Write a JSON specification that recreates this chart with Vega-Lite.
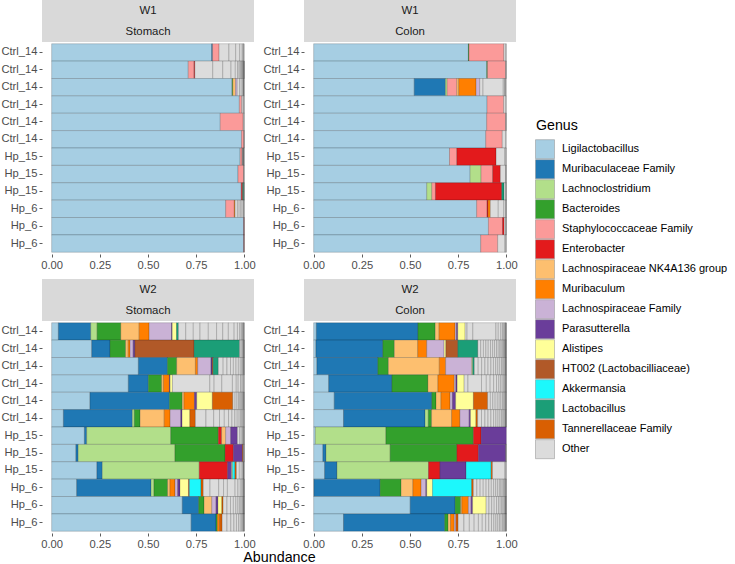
{
  "$schema": "https://vega.github.io/schema/vega-lite/v6.json",
  "background": "white",
  "padding": 0,
  "config": {
    "font": "Liberation Sans",
    "view": {"stroke": null},
    "axis": {"domain": false, "grid": false, "tickColor": "#333333", "tickSize": 3, "tickWidth": 0.8, "labelColor": "#4D4D4D", "labelFontSize": 11.2, "labelPadding": 2},
    "legend": {"title": "Genus", "orient": "none", "legendX": 494, "legendY": 119, "symbolType": "M-1.097,-1.097H1.097V1.097H-1.097Z", "symbolSize": 300, "symbolStrokeColor": "#8C8C8C", "symbolStrokeWidth": 0.5, "symbolOpacity": 1, "labelFontSize": 11, "labelColor": "#000000", "labelLimit": 300, "titleFontSize": 14.2, "titleFontWeight": "normal", "titleColor": "#000000", "rowPadding": -2.33, "labelOffset": 8, "titlePadding": 7},
    "title": {"fontWeight": "normal", "fontSize": 14.3, "color": "#000000"}
  },
  "title": {"text": "Abundance", "orient": "bottom", "anchor": "middle", "offset": 2, "dx": -85},
  "datasets": {
    "abundance": [
      {"week": "W1", "tissue": "Stomach", "sample": "Ctrl_14 1", "genus": ["Ligilactobacillus", "Muribaculaceae Family", "Staphylococcaceae Family", "Other", "Other", "Other", "Other", "Other", "Other", "Other"], "abundance": [0.830, 0.005, 0.034, 0.051, 0.035, 0.021, 0.013, 0.005, 0.003, 0.002]},
      {"week": "W1", "tissue": "Stomach", "sample": "Ctrl_14 2", "genus": ["Ligilactobacillus", "Staphylococcaceae Family", "Enterobacter", "Other", "Other", "Other", "Other", "Other", "Other", "Other", "Other", "Other", "Other", "Other", "Other", "Other", "Other", "Other"], "abundance": [0.709, 0.030, 0.004, 0.093, 0.052, 0.043, 0.022, 0.012, 0.008, 0.006, 0.005, 0.004, 0.003, 0.003, 0.002, 0.002, 0.001, 0.001]},
      {"week": "W1", "tissue": "Stomach", "sample": "Ctrl_14 3", "genus": ["Ligilactobacillus", "Bacteroides", "Lachnospiraceae NK4A136 group", "Lachnospiraceae Family", "Other", "Other", "Other", "Other", "Other", "Other", "Other"], "abundance": [0.936, 0.004, 0.014, 0.009, 0.012, 0.009, 0.007, 0.004, 0.002, 0.001, 0.001]},
      {"week": "W1", "tissue": "Stomach", "sample": "Ctrl_14 4", "genus": ["Ligilactobacillus", "Staphylococcaceae Family", "Other", "Other", "Other"], "abundance": [0.974, 0.012, 0.008, 0.004, 0.002]},
      {"week": "W1", "tissue": "Stomach", "sample": "Ctrl_14 5", "genus": ["Ligilactobacillus", "Staphylococcaceae Family", "Other", "Other"], "abundance": [0.875, 0.119, 0.004, 0.002]},
      {"week": "W1", "tissue": "Stomach", "sample": "Ctrl_14 6", "genus": ["Ligilactobacillus", "Staphylococcaceae Family", "Other", "Other"], "abundance": [0.985, 0.012, 0.002, 0.001]},
      {"week": "W1", "tissue": "Stomach", "sample": "Hp_15 1", "genus": ["Ligilactobacillus", "Staphylococcaceae Family", "Other", "Other", "Other", "Other", "Other", "Other"], "abundance": [0.978, 0.010, 0.003, 0.002, 0.002, 0.002, 0.001, 0.001]},
      {"week": "W1", "tissue": "Stomach", "sample": "Hp_15 2", "genus": ["Ligilactobacillus", "Staphylococcaceae Family", "Other", "Other"], "abundance": [0.967, 0.029, 0.002, 0.002]},
      {"week": "W1", "tissue": "Stomach", "sample": "Hp_15 3", "genus": ["Ligilactobacillus", "Enterobacter", "Lactobacillus", "Other", "Other"], "abundance": [0.984, 0.007, 0.006, 0.002, 0.001]},
      {"week": "W1", "tissue": "Stomach", "sample": "Hp_6 1", "genus": ["Ligilactobacillus", "Staphylococcaceae Family", "Muribaculum", "Other", "Other", "Other", "Other", "Other", "Other", "Other"], "abundance": [0.903, 0.045, 0.004, 0.012, 0.009, 0.009, 0.007, 0.007, 0.002, 0.002]},
      {"week": "W1", "tissue": "Stomach", "sample": "Hp_6 2", "genus": ["Ligilactobacillus", "Enterobacter", "Other"], "abundance": [0.997, 0.002, 0.001]},
      {"week": "W1", "tissue": "Stomach", "sample": "Hp_6 3", "genus": ["Ligilactobacillus", "Enterobacter", "Other"], "abundance": [0.997, 0.002, 0.001]},

      {"week": "W1", "tissue": "Colon", "sample": "Ctrl_14 1", "genus": ["Ligilactobacillus", "Bacteroides", "Staphylococcaceae Family", "Other", "Other"], "abundance": [0.803, 0.003, 0.181, 0.010, 0.003]},
      {"week": "W1", "tissue": "Colon", "sample": "Ctrl_14 2", "genus": ["Ligilactobacillus", "Bacteroides", "Staphylococcaceae Family", "Other", "Other"], "abundance": [0.898, 0.004, 0.094, 0.003, 0.001]},
      {"week": "W1", "tissue": "Colon", "sample": "Ctrl_14 3", "genus": ["Ligilactobacillus", "Muribaculaceae Family", "Lachnoclostridium", "Staphylococcaceae Family", "Lachnospiraceae NK4A136 group", "Muribaculum", "Lachnospiraceae Family", "Other", "Other", "Other", "Other", "Other", "Other"], "abundance": [0.522, 0.162, 0.009, 0.050, 0.010, 0.090, 0.019, 0.017, 0.105, 0.006, 0.004, 0.003, 0.002]},
      {"week": "W1", "tissue": "Colon", "sample": "Ctrl_14 4", "genus": ["Ligilactobacillus", "Staphylococcaceae Family", "Other", "Other"], "abundance": [0.900, 0.086, 0.011, 0.003]},
      {"week": "W1", "tissue": "Colon", "sample": "Ctrl_14 5", "genus": ["Ligilactobacillus", "Staphylococcaceae Family", "Other", "Other"], "abundance": [0.898, 0.098, 0.003, 0.001]},
      {"week": "W1", "tissue": "Colon", "sample": "Ctrl_14 6", "genus": ["Ligilactobacillus", "Staphylococcaceae Family", "Other", "Other"], "abundance": [0.893, 0.086, 0.017, 0.004]},
      {"week": "W1", "tissue": "Colon", "sample": "Hp_15 1", "genus": ["Ligilactobacillus", "Staphylococcaceae Family", "Enterobacter", "Other", "Other", "Other"], "abundance": [0.705, 0.038, 0.204, 0.045, 0.006, 0.002]},
      {"week": "W1", "tissue": "Colon", "sample": "Hp_15 2", "genus": ["Ligilactobacillus", "Lachnoclostridium", "Staphylococcaceae Family", "Enterobacter", "Other", "Other", "Other"], "abundance": [0.812, 0.057, 0.060, 0.040, 0.027, 0.003, 0.001]},
      {"week": "W1", "tissue": "Colon", "sample": "Hp_15 3", "genus": ["Ligilactobacillus", "Lachnoclostridium", "Staphylococcaceae Family", "Enterobacter", "Lactobacillus", "Other", "Other", "Other"], "abundance": [0.587, 0.026, 0.019, 0.344, 0.012, 0.009, 0.002, 0.001]},
      {"week": "W1", "tissue": "Colon", "sample": "Hp_6 1", "genus": ["Ligilactobacillus", "Staphylococcaceae Family", "Enterobacter", "Muribaculum", "Other", "Other", "Other", "Other", "Other"], "abundance": [0.846, 0.054, 0.005, 0.012, 0.041, 0.029, 0.010, 0.002, 0.001]},
      {"week": "W1", "tissue": "Colon", "sample": "Hp_6 2", "genus": ["Ligilactobacillus", "Staphylococcaceae Family", "Enterobacter", "Other", "Other", "Other"], "abundance": [0.907, 0.073, 0.009, 0.008, 0.002, 0.001]},
      {"week": "W1", "tissue": "Colon", "sample": "Hp_6 3", "genus": ["Ligilactobacillus", "Staphylococcaceae Family", "Other", "Other", "Other"], "abundance": [0.867, 0.088, 0.038, 0.005, 0.002]},

      {"week": "W2", "tissue": "Stomach", "sample": "Ctrl_14 1", "genus": ["Ligilactobacillus", "Muribaculaceae Family", "Lachnoclostridium", "Bacteroides", "Lachnospiraceae NK4A136 group", "Muribaculum", "Lachnospiraceae Family", "Parasutterella", "Alistipes", "Lactobacillus", "Other", "Other", "Other", "Other", "Other", "Other", "Other", "Other", "Other", "Other", "Other", "Other", "Other", "Other", "Other", "Other"], "abundance": [0.035, 0.168, 0.033, 0.123, 0.095, 0.052, 0.116, 0.004, 0.022, 0.010, 0.038, 0.039, 0.035, 0.043, 0.043, 0.032, 0.029, 0.030, 0.017, 0.012, 0.008, 0.005, 0.004, 0.003, 0.002, 0.002]},
      {"week": "W2", "tissue": "Stomach", "sample": "Ctrl_14 2", "genus": ["Ligilactobacillus", "Muribaculaceae Family", "Bacteroides", "Lachnospiraceae NK4A136 group", "Muribaculum", "Lachnospiraceae Family", "Parasutterella", "HT002 (Lactobacilliaceae)", "Lactobacillus", "Other", "Other", "Other", "Other", "Other", "Other", "Other"], "abundance": [0.208, 0.095, 0.081, 0.013, 0.010, 0.016, 0.009, 0.307, 0.236, 0.008, 0.006, 0.004, 0.003, 0.002, 0.001, 0.001]},
      {"week": "W2", "tissue": "Stomach", "sample": "Ctrl_14 3", "genus": ["Ligilactobacillus", "Muribaculaceae Family", "Bacteroides", "Lachnospiraceae NK4A136 group", "Muribaculum", "Lachnospiraceae Family", "Parasutterella", "HT002 (Lactobacilliaceae)", "Lactobacillus", "Other", "Other", "Other", "Other", "Other", "Other", "Other", "Other", "Other", "Other", "Other", "Other", "Other"], "abundance": [0.450, 0.151, 0.048, 0.097, 0.012, 0.069, 0.006, 0.005, 0.027, 0.025, 0.020, 0.018, 0.015, 0.014, 0.012, 0.010, 0.008, 0.005, 0.003, 0.002, 0.002, 0.001]},
      {"week": "W2", "tissue": "Stomach", "sample": "Ctrl_14 4", "genus": ["Ligilactobacillus", "Muribaculaceae Family", "Bacteroides", "Lachnospiraceae NK4A136 group", "Muribaculum", "Parasutterella", "Alistipes", "Other", "Other", "Other", "Other", "Other", "Other", "Other", "Other", "Other", "Other", "Other"], "abundance": [0.398, 0.104, 0.069, 0.009, 0.031, 0.004, 0.012, 0.194, 0.022, 0.040, 0.055, 0.020, 0.010, 0.012, 0.008, 0.006, 0.004, 0.002]},
      {"week": "W2", "tissue": "Stomach", "sample": "Ctrl_14 5", "genus": ["Ligilactobacillus", "Muribaculaceae Family", "Bacteroides", "Lachnospiraceae NK4A136 group", "Muribaculum", "Parasutterella", "Alistipes", "Tannerellaceae Family", "Other", "Other", "Other", "Other", "Other", "Other", "Other", "Other", "Other", "Other", "Other"], "abundance": [0.199, 0.412, 0.067, 0.009, 0.054, 0.012, 0.081, 0.106, 0.012, 0.010, 0.008, 0.007, 0.006, 0.005, 0.004, 0.003, 0.002, 0.002, 0.001]},
      {"week": "W2", "tissue": "Stomach", "sample": "Ctrl_14 6", "genus": ["Ligilactobacillus", "Muribaculaceae Family", "Lachnoclostridium", "Bacteroides", "Lachnospiraceae NK4A136 group", "Muribaculum", "Lachnospiraceae Family", "Parasutterella", "Alistipes", "Tannerellaceae Family", "Other", "Other", "Other", "Other", "Other", "Other", "Other", "Other", "Other", "Other", "Other", "Other", "Other", "Other", "Other"], "abundance": [0.061, 0.358, 0.010, 0.030, 0.125, 0.031, 0.055, 0.007, 0.040, 0.029, 0.055, 0.040, 0.030, 0.025, 0.022, 0.018, 0.015, 0.012, 0.010, 0.008, 0.006, 0.005, 0.004, 0.003, 0.002]},
      {"week": "W2", "tissue": "Stomach", "sample": "Hp_15 1", "genus": ["Ligilactobacillus", "Muribaculaceae Family", "Lachnoclostridium", "Bacteroides", "Enterobacter", "Lachnospiraceae NK4A136 group", "Lachnospiraceae Family", "Parasutterella", "Other", "Other", "Other", "Other", "Other", "Other", "Other"], "abundance": [0.170, 0.012, 0.436, 0.247, 0.017, 0.021, 0.026, 0.035, 0.012, 0.008, 0.006, 0.004, 0.003, 0.002, 0.001]},
      {"week": "W2", "tissue": "Stomach", "sample": "Hp_15 2", "genus": ["Ligilactobacillus", "Muribaculaceae Family", "Lachnoclostridium", "Bacteroides", "Enterobacter", "Parasutterella", "Tannerellaceae Family", "Other", "Other", "Other"], "abundance": [0.126, 0.012, 0.502, 0.260, 0.043, 0.047, 0.004, 0.003, 0.002, 0.001]},
      {"week": "W2", "tissue": "Stomach", "sample": "Hp_15 3", "genus": ["Ligilactobacillus", "Muribaculaceae Family", "Lachnoclostridium", "Enterobacter", "Parasutterella", "Alistipes", "Akkermansia", "Tannerellaceae Family", "Other", "Other", "Other", "Other", "Other", "Other", "Other"], "abundance": [0.235, 0.028, 0.503, 0.147, 0.021, 0.005, 0.012, 0.008, 0.015, 0.010, 0.007, 0.004, 0.002, 0.001, 0.001]},
      {"week": "W2", "tissue": "Stomach", "sample": "Hp_6 1", "genus": ["Ligilactobacillus", "Muribaculaceae Family", "Lachnoclostridium", "Bacteroides", "Lachnospiraceae NK4A136 group", "Muribaculum", "Lachnospiraceae Family", "Parasutterella", "Alistipes", "HT002 (Lactobacilliaceae)", "Akkermansia", "Tannerellaceae Family", "Other", "Other", "Other", "Other", "Other", "Other", "Other", "Other", "Other", "Other", "Other", "Other", "Other"], "abundance": [0.130, 0.386, 0.015, 0.071, 0.012, 0.026, 0.014, 0.012, 0.044, 0.005, 0.060, 0.012, 0.035, 0.045, 0.025, 0.020, 0.040, 0.015, 0.012, 0.008, 0.005, 0.004, 0.002, 0.001, 0.001]},
      {"week": "W2", "tissue": "Stomach", "sample": "Hp_6 2", "genus": ["Ligilactobacillus", "Muribaculaceae Family", "Bacteroides", "Lachnospiraceae NK4A136 group", "Lachnospiraceae Family", "Parasutterella", "Alistipes", "Tannerellaceae Family", "Other", "Other", "Other", "Other", "Other", "Other", "Other", "Other", "Other", "Other", "Other", "Other", "Other"], "abundance": [0.678, 0.085, 0.028, 0.040, 0.022, 0.010, 0.020, 0.007, 0.020, 0.018, 0.015, 0.013, 0.011, 0.009, 0.007, 0.006, 0.004, 0.003, 0.002, 0.001, 0.001]},
      {"week": "W2", "tissue": "Stomach", "sample": "Hp_6 3", "genus": ["Ligilactobacillus", "Muribaculaceae Family", "Bacteroides", "Muribaculum", "Tannerellaceae Family", "Other", "Other", "Other", "Other", "Other", "Other", "Other", "Other", "Other", "Other", "Other", "Other"], "abundance": [0.724, 0.129, 0.007, 0.012, 0.013, 0.025, 0.020, 0.016, 0.013, 0.011, 0.009, 0.007, 0.005, 0.004, 0.002, 0.002, 0.001]},

      {"week": "W2", "tissue": "Colon", "sample": "Ctrl_14 1", "genus": ["Ligilactobacillus", "Muribaculaceae Family", "Bacteroides", "Lachnospiraceae NK4A136 group", "Muribaculum", "Lachnospiraceae Family", "Parasutterella", "Alistipes", "Other", "Other", "Other", "Other", "Other", "Other", "Other", "Other", "Other", "Other", "Other", "Other"], "abundance": [0.014, 0.527, 0.090, 0.020, 0.083, 0.007, 0.007, 0.038, 0.010, 0.030, 0.120, 0.012, 0.014, 0.008, 0.006, 0.005, 0.004, 0.002, 0.002, 0.001]},
      {"week": "W2", "tissue": "Colon", "sample": "Ctrl_14 2", "genus": ["Ligilactobacillus", "Muribaculaceae Family", "Bacteroides", "Lachnospiraceae NK4A136 group", "Muribaculum", "Lachnospiraceae Family", "Alistipes", "HT002 (Lactobacilliaceae)", "Lactobacillus", "Other", "Other", "Other", "Other", "Other", "Other", "Other", "Other", "Other", "Other", "Other", "Other", "Other", "Other", "Other", "Other", "Other", "Other", "Other", "Other"], "abundance": [0.012, 0.347, 0.060, 0.121, 0.047, 0.090, 0.009, 0.062, 0.104, 0.015, 0.014, 0.013, 0.012, 0.012, 0.011, 0.010, 0.010, 0.009, 0.008, 0.007, 0.006, 0.005, 0.004, 0.003, 0.003, 0.002, 0.002, 0.001, 0.001]},
      {"week": "W2", "tissue": "Colon", "sample": "Ctrl_14 3", "genus": ["Ligilactobacillus", "Muribaculaceae Family", "Bacteroides", "Lachnospiraceae NK4A136 group", "Muribaculum", "Lachnospiraceae Family", "Alistipes", "Lactobacillus", "Other", "Other", "Other", "Other", "Other", "Other", "Other", "Other", "Other", "Other", "Other", "Other", "Other", "Other", "Other", "Other", "Other"], "abundance": [0.017, 0.316, 0.055, 0.264, 0.033, 0.135, 0.005, 0.009, 0.020, 0.018, 0.017, 0.016, 0.015, 0.013, 0.012, 0.011, 0.010, 0.009, 0.007, 0.006, 0.005, 0.003, 0.002, 0.001, 0.001]},
      {"week": "W2", "tissue": "Colon", "sample": "Ctrl_14 4", "genus": ["Ligilactobacillus", "Muribaculaceae Family", "Bacteroides", "Lachnospiraceae NK4A136 group", "Muribaculum", "Lachnospiraceae Family", "Parasutterella", "Alistipes", "Other", "Other", "Other", "Other", "Other", "Other", "Other", "Other", "Other", "Other", "Other", "Other", "Other", "Other", "Other"], "abundance": [0.078, 0.328, 0.187, 0.052, 0.085, 0.008, 0.007, 0.036, 0.020, 0.070, 0.025, 0.020, 0.018, 0.015, 0.012, 0.010, 0.008, 0.007, 0.005, 0.004, 0.003, 0.001, 0.001]},
      {"week": "W2", "tissue": "Colon", "sample": "Ctrl_14 5", "genus": ["Ligilactobacillus", "Muribaculaceae Family", "Bacteroides", "Lachnospiraceae NK4A136 group", "Muribaculum", "Lachnospiraceae Family", "Parasutterella", "Alistipes", "Tannerellaceae Family", "Other", "Other", "Other", "Other", "Other", "Other", "Other", "Other", "Other", "Other", "Other", "Other", "Other"], "abundance": [0.107, 0.506, 0.022, 0.026, 0.047, 0.012, 0.017, 0.092, 0.074, 0.014, 0.013, 0.012, 0.011, 0.010, 0.009, 0.008, 0.006, 0.005, 0.004, 0.003, 0.001, 0.001]},
      {"week": "W2", "tissue": "Colon", "sample": "Ctrl_14 6", "genus": ["Ligilactobacillus", "Muribaculaceae Family", "Lachnoclostridium", "Bacteroides", "Lachnospiraceae NK4A136 group", "Muribaculum", "Lachnospiraceae Family", "Parasutterella", "Alistipes", "Tannerellaceae Family", "Other", "Other", "Other", "Other", "Other", "Other", "Other", "Other", "Other", "Other", "Other", "Other", "Other", "Other", "Other", "Other"], "abundance": [0.155, 0.423, 0.017, 0.017, 0.104, 0.043, 0.048, 0.007, 0.028, 0.009, 0.020, 0.018, 0.016, 0.015, 0.014, 0.012, 0.011, 0.010, 0.008, 0.007, 0.006, 0.005, 0.003, 0.002, 0.001, 0.001]},
      {"week": "W2", "tissue": "Colon", "sample": "Hp_15 1", "genus": ["Ligilactobacillus", "Lachnoclostridium", "Bacteroides", "Enterobacter", "Parasutterella"], "abundance": [0.009, 0.366, 0.454, 0.040, 0.131]},
      {"week": "W2", "tissue": "Colon", "sample": "Hp_15 2", "genus": ["Ligilactobacillus", "Muribaculaceae Family", "Lachnoclostridium", "Bacteroides", "Enterobacter", "Parasutterella", "Other", "Other"], "abundance": [0.048, 0.016, 0.333, 0.346, 0.112, 0.142, 0.002, 0.001]},
      {"week": "W2", "tissue": "Colon", "sample": "Hp_15 3", "genus": ["Ligilactobacillus", "Muribaculaceae Family", "Lachnoclostridium", "Enterobacter", "Parasutterella", "Akkermansia", "Tannerellaceae Family", "Other", "Other", "Other"], "abundance": [0.057, 0.064, 0.475, 0.059, 0.136, 0.130, 0.007, 0.065, 0.005, 0.002]},
      {"week": "W2", "tissue": "Colon", "sample": "Hp_6 1", "genus": ["Ligilactobacillus", "Muribaculaceae Family", "Bacteroides", "Lachnospiraceae NK4A136 group", "Muribaculum", "Lachnospiraceae Family", "Parasutterella", "Alistipes", "Akkermansia", "Tannerellaceae Family", "Other", "Other", "Other", "Other", "Other", "Other", "Other", "Other", "Other", "Other", "Other", "Other", "Other", "Other", "Other", "Other", "Other", "Other"], "abundance": [0.002, 0.343, 0.109, 0.061, 0.043, 0.024, 0.005, 0.030, 0.203, 0.009, 0.018, 0.017, 0.016, 0.015, 0.014, 0.013, 0.012, 0.011, 0.010, 0.009, 0.008, 0.007, 0.006, 0.005, 0.004, 0.003, 0.002, 0.001]},
      {"week": "W2", "tissue": "Colon", "sample": "Hp_6 2", "genus": ["Ligilactobacillus", "Muribaculaceae Family", "Bacteroides", "Lachnospiraceae NK4A136 group", "Muribaculum", "Lachnospiraceae Family", "Parasutterella", "Alistipes", "Other", "Other", "Other", "Other", "Other", "Other", "Other", "Other", "Other", "Other", "Other", "Other", "Other", "Other"], "abundance": [0.501, 0.233, 0.029, 0.006, 0.034, 0.014, 0.008, 0.070, 0.015, 0.014, 0.013, 0.012, 0.010, 0.009, 0.008, 0.007, 0.006, 0.004, 0.003, 0.002, 0.001, 0.001]},
      {"week": "W2", "tissue": "Colon", "sample": "Hp_6 3", "genus": ["Ligilactobacillus", "Muribaculaceae Family", "Bacteroides", "Lachnospiraceae NK4A136 group", "Muribaculum", "Lachnospiraceae Family", "Tannerellaceae Family", "Other", "Other", "Other", "Other", "Other", "Other", "Other", "Other", "Other", "Other", "Other", "Other", "Other", "Other", "Other", "Other", "Other", "Other", "Other", "Other"], "abundance": [0.155, 0.525, 0.018, 0.012, 0.020, 0.008, 0.012, 0.030, 0.028, 0.025, 0.022, 0.020, 0.018, 0.016, 0.014, 0.012, 0.011, 0.010, 0.009, 0.008, 0.007, 0.006, 0.005, 0.004, 0.003, 0.001, 0.001]}
    ]
  },
  "spacing": 8,
  "resolve": {"scale": {"x": "independent", "y": "independent"}},
  "vconcat": [
    {
      "spacing": 6,
      "resolve": {"scale": {"x": "independent", "y": "independent"}},
      "hconcat": [
        {
          "spacing": 0,
          "resolve": {"scale": {"x": "independent", "y": "independent"}},
          "vconcat": [
            {"width": 212, "height": 42, "view": {"fill": "#D9D9D9", "stroke": null},
             "data": {"values": [{"line": "W1"}, {"line": "Stomach"}]},
             "mark": {"type": "text", "fontSize": 11.4, "color": "#1A1A1A"},
             "encoding": {"y": {"field": "line", "type": "nominal", "sort": null, "axis": null}, "text": {"field": "line"}}},
            {"width": 212, "height": 212,
             "data": {"name": "abundance"},
             "transform": [
               {"filter": "datum.week === 'W1' && datum.tissue === 'Stomach'"},
               {"flatten": ["genus", "abundance"]},
               {"window": [{"op": "row_number", "as": "seg"}], "groupby": ["sample"]}
             ],
             "mark": {"type": "bar", "stroke": "#000000", "strokeOpacity": 0.35, "strokeWidth": 0.5},
             "encoding": {
               "y": {"field": "sample", "type": "nominal", "title": null, "sort": ["Ctrl_14 1", "Ctrl_14 2", "Ctrl_14 3", "Ctrl_14 4", "Ctrl_14 5", "Ctrl_14 6", "Hp_15 1", "Hp_15 2", "Hp_15 3", "Hp_6 1", "Hp_6 2", "Hp_6 3"], "scale": {"paddingInner": 0, "paddingOuter": 0.1}, "axis": {"labelExpr": "split(datum.label, ' ')[0]"}},
               "x": {"field": "abundance", "type": "quantitative", "stack": "zero", "scale": {"domain": [-0.05, 1.05], "nice": false, "zero": false}, "axis": {"values": [0, 0.25, 0.5, 0.75, 1], "format": ".2f", "title": null}},
               "color": {"field": "genus", "type": "nominal", "title": "Genus",
                 "scale": {"domain": ["Ligilactobacillus", "Muribaculaceae Family", "Lachnoclostridium", "Bacteroides", "Staphylococcaceae Family", "Enterobacter", "Lachnospiraceae NK4A136 group", "Muribaculum", "Lachnospiraceae Family", "Parasutterella", "Alistipes", "HT002 (Lactobacilliaceae)", "Akkermansia", "Lactobacillus", "Tannerellaceae Family", "Other"],
                           "range": ["#A6CEE3", "#1F78B4", "#B2DF8A", "#33A02C", "#FB9A99", "#E31A1C", "#FDBF6F", "#FF7F00", "#CAB2D6", "#6A3D9A", "#FFFF99", "#B15928", "#1CF8FC", "#1B9E77", "#D95F02", "#DCDCDC"]}},
               "order": {"field": "seg", "type": "quantitative"}
             }}
          ]
        },
        {
          "spacing": 0,
          "resolve": {"scale": {"x": "independent", "y": "independent"}},
          "vconcat": [
            {"width": 212, "height": 42, "view": {"fill": "#D9D9D9", "stroke": null},
             "data": {"values": [{"line": "W1"}, {"line": "Colon"}]},
             "mark": {"type": "text", "fontSize": 11.4, "color": "#1A1A1A"},
             "encoding": {"y": {"field": "line", "type": "nominal", "sort": null, "axis": null}, "text": {"field": "line"}}},
            {"width": 212, "height": 212,
             "data": {"name": "abundance"},
             "transform": [
               {"filter": "datum.week === 'W1' && datum.tissue === 'Colon'"},
               {"flatten": ["genus", "abundance"]},
               {"window": [{"op": "row_number", "as": "seg"}], "groupby": ["sample"]}
             ],
             "mark": {"type": "bar", "stroke": "#000000", "strokeOpacity": 0.35, "strokeWidth": 0.5},
             "encoding": {
               "y": {"field": "sample", "type": "nominal", "title": null, "sort": ["Ctrl_14 1", "Ctrl_14 2", "Ctrl_14 3", "Ctrl_14 4", "Ctrl_14 5", "Ctrl_14 6", "Hp_15 1", "Hp_15 2", "Hp_15 3", "Hp_6 1", "Hp_6 2", "Hp_6 3"], "scale": {"paddingInner": 0, "paddingOuter": 0.1}, "axis": {"labelExpr": "split(datum.label, ' ')[0]"}},
               "x": {"field": "abundance", "type": "quantitative", "stack": "zero", "scale": {"domain": [-0.05, 1.05], "nice": false, "zero": false}, "axis": {"values": [0, 0.25, 0.5, 0.75, 1], "format": ".2f", "title": null}},
               "color": {"field": "genus", "type": "nominal", "title": "Genus",
                 "scale": {"domain": ["Ligilactobacillus", "Muribaculaceae Family", "Lachnoclostridium", "Bacteroides", "Staphylococcaceae Family", "Enterobacter", "Lachnospiraceae NK4A136 group", "Muribaculum", "Lachnospiraceae Family", "Parasutterella", "Alistipes", "HT002 (Lactobacilliaceae)", "Akkermansia", "Lactobacillus", "Tannerellaceae Family", "Other"],
                           "range": ["#A6CEE3", "#1F78B4", "#B2DF8A", "#33A02C", "#FB9A99", "#E31A1C", "#FDBF6F", "#FF7F00", "#CAB2D6", "#6A3D9A", "#FFFF99", "#B15928", "#1CF8FC", "#1B9E77", "#D95F02", "#DCDCDC"]}},
               "order": {"field": "seg", "type": "quantitative"}
             }}
          ]
        }
      ]
    },
    {
      "spacing": 6,
      "resolve": {"scale": {"x": "independent", "y": "independent"}},
      "hconcat": [
        {
          "spacing": 0,
          "resolve": {"scale": {"x": "independent", "y": "independent"}},
          "vconcat": [
            {"width": 212, "height": 42, "view": {"fill": "#D9D9D9", "stroke": null},
             "data": {"values": [{"line": "W2"}, {"line": "Stomach"}]},
             "mark": {"type": "text", "fontSize": 11.4, "color": "#1A1A1A"},
             "encoding": {"y": {"field": "line", "type": "nominal", "sort": null, "axis": null}, "text": {"field": "line"}}},
            {"width": 212, "height": 212,
             "data": {"name": "abundance"},
             "transform": [
               {"filter": "datum.week === 'W2' && datum.tissue === 'Stomach'"},
               {"flatten": ["genus", "abundance"]},
               {"window": [{"op": "row_number", "as": "seg"}], "groupby": ["sample"]}
             ],
             "mark": {"type": "bar", "stroke": "#000000", "strokeOpacity": 0.35, "strokeWidth": 0.5},
             "encoding": {
               "y": {"field": "sample", "type": "nominal", "title": null, "sort": ["Ctrl_14 1", "Ctrl_14 2", "Ctrl_14 3", "Ctrl_14 4", "Ctrl_14 5", "Ctrl_14 6", "Hp_15 1", "Hp_15 2", "Hp_15 3", "Hp_6 1", "Hp_6 2", "Hp_6 3"], "scale": {"paddingInner": 0, "paddingOuter": 0.1}, "axis": {"labelExpr": "split(datum.label, ' ')[0]"}},
               "x": {"field": "abundance", "type": "quantitative", "stack": "zero", "scale": {"domain": [-0.05, 1.05], "nice": false, "zero": false}, "axis": {"values": [0, 0.25, 0.5, 0.75, 1], "format": ".2f", "title": null}},
               "color": {"field": "genus", "type": "nominal", "title": "Genus",
                 "scale": {"domain": ["Ligilactobacillus", "Muribaculaceae Family", "Lachnoclostridium", "Bacteroides", "Staphylococcaceae Family", "Enterobacter", "Lachnospiraceae NK4A136 group", "Muribaculum", "Lachnospiraceae Family", "Parasutterella", "Alistipes", "HT002 (Lactobacilliaceae)", "Akkermansia", "Lactobacillus", "Tannerellaceae Family", "Other"],
                           "range": ["#A6CEE3", "#1F78B4", "#B2DF8A", "#33A02C", "#FB9A99", "#E31A1C", "#FDBF6F", "#FF7F00", "#CAB2D6", "#6A3D9A", "#FFFF99", "#B15928", "#1CF8FC", "#1B9E77", "#D95F02", "#DCDCDC"]}},
               "order": {"field": "seg", "type": "quantitative"}
             }}
          ]
        },
        {
          "spacing": 0,
          "resolve": {"scale": {"x": "independent", "y": "independent"}},
          "vconcat": [
            {"width": 212, "height": 42, "view": {"fill": "#D9D9D9", "stroke": null},
             "data": {"values": [{"line": "W2"}, {"line": "Colon"}]},
             "mark": {"type": "text", "fontSize": 11.4, "color": "#1A1A1A"},
             "encoding": {"y": {"field": "line", "type": "nominal", "sort": null, "axis": null}, "text": {"field": "line"}}},
            {"width": 212, "height": 212,
             "data": {"name": "abundance"},
             "transform": [
               {"filter": "datum.week === 'W2' && datum.tissue === 'Colon'"},
               {"flatten": ["genus", "abundance"]},
               {"window": [{"op": "row_number", "as": "seg"}], "groupby": ["sample"]}
             ],
             "mark": {"type": "bar", "stroke": "#000000", "strokeOpacity": 0.35, "strokeWidth": 0.5},
             "encoding": {
               "y": {"field": "sample", "type": "nominal", "title": null, "sort": ["Ctrl_14 1", "Ctrl_14 2", "Ctrl_14 3", "Ctrl_14 4", "Ctrl_14 5", "Ctrl_14 6", "Hp_15 1", "Hp_15 2", "Hp_15 3", "Hp_6 1", "Hp_6 2", "Hp_6 3"], "scale": {"paddingInner": 0, "paddingOuter": 0.1}, "axis": {"labelExpr": "split(datum.label, ' ')[0]"}},
               "x": {"field": "abundance", "type": "quantitative", "stack": "zero", "scale": {"domain": [-0.05, 1.05], "nice": false, "zero": false}, "axis": {"values": [0, 0.25, 0.5, 0.75, 1], "format": ".2f", "title": null}},
               "color": {"field": "genus", "type": "nominal", "title": "Genus",
                 "scale": {"domain": ["Ligilactobacillus", "Muribaculaceae Family", "Lachnoclostridium", "Bacteroides", "Staphylococcaceae Family", "Enterobacter", "Lachnospiraceae NK4A136 group", "Muribaculum", "Lachnospiraceae Family", "Parasutterella", "Alistipes", "HT002 (Lactobacilliaceae)", "Akkermansia", "Lactobacillus", "Tannerellaceae Family", "Other"],
                           "range": ["#A6CEE3", "#1F78B4", "#B2DF8A", "#33A02C", "#FB9A99", "#E31A1C", "#FDBF6F", "#FF7F00", "#CAB2D6", "#6A3D9A", "#FFFF99", "#B15928", "#1CF8FC", "#1B9E77", "#D95F02", "#DCDCDC"]}},
               "order": {"field": "seg", "type": "quantitative"}
             }}
          ]
        }
      ]
    }
  ]
}
